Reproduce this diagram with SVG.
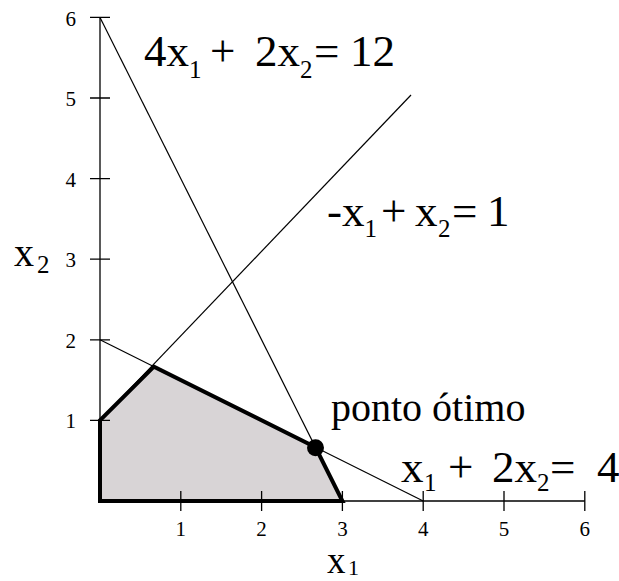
<svg xmlns="http://www.w3.org/2000/svg" width="619" height="581" viewBox="0 0 619 581">
<style>
.ax{stroke:#000;stroke-width:1.3;fill:none}
.ln{stroke:#000;stroke-width:1.2;fill:none}
text{font-family:'Liberation Serif','Times New Roman',Tinos,'DejaVu Serif','Noto Serif',FreeSerif,serif;fill:#000}
.tk{font-size:21px}
.eq{font-size:45px}
.sub{font-size:25px}
.lab{font-size:40px}
</style>
<rect width="619" height="581" fill="#fff"/>
<g id="region">
<polygon points="100,501 100,420.4 153.9,366.6 315.5,447.3 342.4,501" fill="#d8d4d6" stroke="none"/>
</g>
<g id="connectors">
<line class="ln" x1="100" y1="17.4" x2="342.4" y2="501"/>
<line class="ln" x1="100" y1="339.8" x2="423.2" y2="501"/>
<line class="ln" x1="100" y1="420.4" x2="411" y2="95"/>
</g>
<g id="axes">
<line class="ax" x1="100" y1="501" x2="584.8" y2="501"/>
<line class="ax" x1="100" y1="501" x2="100" y2="17.4"/>
<path class="ax" d="M90 420.4H110M90 339.8H110M90 259.2H110M90 178.6H110M90 98H110M90 17.4H110"/>
<path class="ax" d="M180.8 491V511M261.6 491V511M342.4 491V511M423.2 491V511M504 491V511M584.8 491V511"/>
<g text-anchor="end">
<text class="tk" x="76" y="428">1</text>
<text class="tk" x="76" y="347.5">2</text>
<text class="tk" x="76" y="267">3</text>
<text class="tk" x="76" y="186.5">4</text>
<text class="tk" x="76" y="106">5</text>
<text class="tk" x="76" y="25.5">6</text>
</g>
<g text-anchor="middle">
<text class="tk" x="180.8" y="536">1</text>
<text class="tk" x="261.6" y="536">2</text>
<text class="tk" x="342.4" y="536">3</text>
<text class="tk" x="423.2" y="536">4</text>
<text class="tk" x="504" y="536">5</text>
<text class="tk" x="584.8" y="536">6</text>
</g>
<text class="lab" x="14" y="266">x<tspan class="sub" x="37" y="273">2</tspan></text>
<text class="lab" x="327" y="573" style="font-size:37px">x<tspan x="348" y="575" style="font-size:22px">1</tspan></text>
</g>
<g id="region-boundary">
<polygon points="100,501 100,420.4 153.9,366.6 315.5,447.3 342.4,501" fill="none" stroke="#000" stroke-width="4" stroke-linejoin="miter"/>
</g>
<g id="optimum">
<circle cx="315.5" cy="447.8" r="8.5" fill="#000"/>
<text class="lab" x="331" y="421">ponto ótimo</text>
</g>
<g id="eq1">
<text class="eq"><tspan x="144" y="66">4</tspan><tspan x="166.5" y="66">x</tspan><tspan class="sub" x="189" y="78">1</tspan><tspan x="210" y="66">+</tspan><tspan x="255" y="66">2</tspan><tspan x="277.5" y="66">x</tspan><tspan class="sub" x="300" y="78">2</tspan><tspan x="314" y="66">=</tspan><tspan x="350" y="66">12</tspan></text>
</g>
<g id="eq2">
<text class="eq"><tspan x="327" y="226">-</tspan><tspan x="342" y="226">x</tspan><tspan class="sub" x="364.5" y="237">1</tspan><tspan x="381" y="226">+</tspan><tspan x="415" y="226">x</tspan><tspan class="sub" x="438" y="237">2</tspan><tspan x="452" y="226">=</tspan><tspan x="487" y="226">1</tspan></text>
</g>
<g id="eq3">
<text class="eq"><tspan x="401" y="482">x</tspan><tspan class="sub" x="424" y="491">1</tspan><tspan x="448" y="482">+</tspan><tspan x="492" y="482">2</tspan><tspan x="514.5" y="482">x</tspan><tspan class="sub" x="537" y="491">2</tspan><tspan x="550" y="482">=</tspan><tspan x="597" y="482">4</tspan></text>
</g>
</svg>
